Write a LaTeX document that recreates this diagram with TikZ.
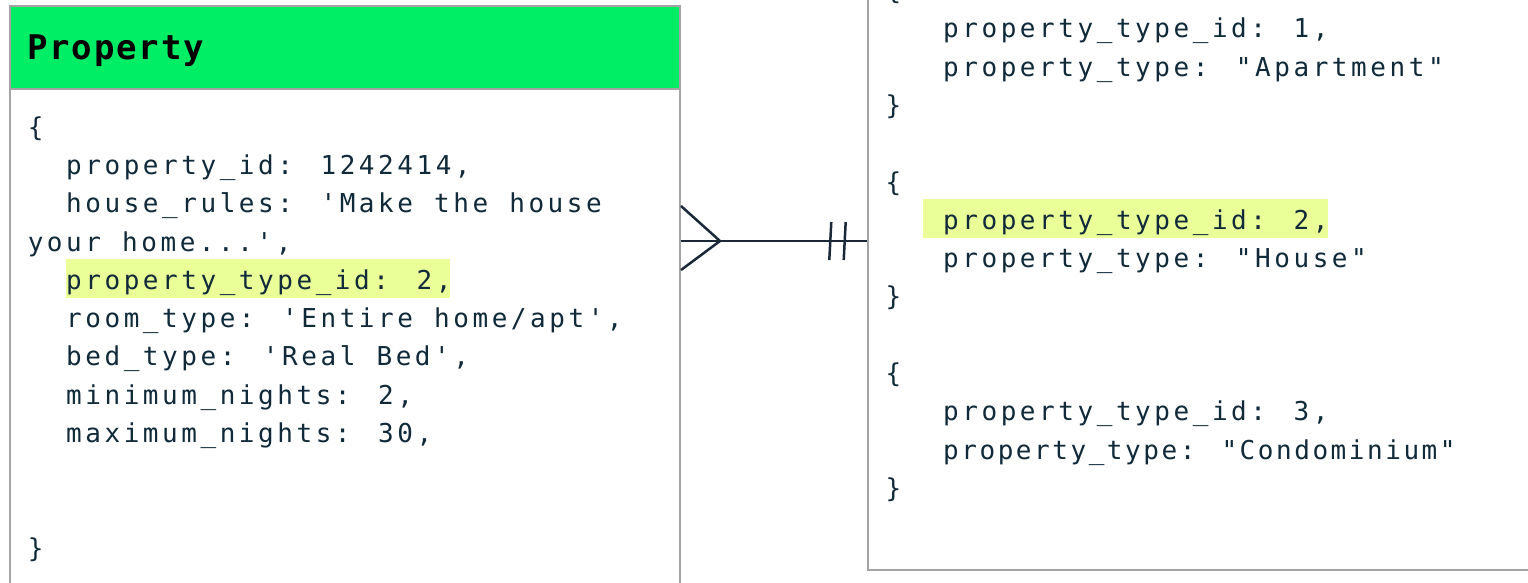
\documentclass[tikz,border=0pt]{standalone}
\usepackage{fontspec}
\newfontfamily\codefont[LetterSpace=13.65,WordSpace=1.1]{DejaVu Sans Mono}
\newfontfamily\tightcode[LetterSpace=9.8,WordSpace=1.1]{DejaVu Sans Mono}
\newfontfamily\titlefont[LetterSpace=5.4]{DejaVu Sans Mono}
\newcommand\sq{\char39\relax}
\newcommand\dq{\char34\relax}
\definecolor{hdrgreen}{HTML}{00EE66}
\definecolor{hilite}{HTML}{EBFF99}
\definecolor{ink}{HTML}{102A3A}
\definecolor{rule}{HTML}{A4A4A4}
\definecolor{linkc}{HTML}{1B2838}
\tikzset{
  code/.style={anchor=base west, inner sep=0pt, text=ink, font=\codefont\fontsize{26}{31}\selectfont},
  tcode/.style={code, font=\tightcode\fontsize{26}{31}\selectfont},
  box/.style={draw=rule, line width=2pt, fill=white, inner sep=0pt},
  conn/.style={draw=linkc, line width=2.5pt},
  hlbox/.style={fill=hilite, draw=none}
}
\begin{document}
\begin{tikzpicture}[x=1pt,y=-1pt]
\useasboundingbox (0,0) rectangle (1528,583);
\clip (0,0) rectangle (1528,583);
% left entity
\node[box, anchor=north west, minimum width=670.5pt, minimum height=700pt] (prop) at (8.5,5) {};
\node[fill=hdrgreen, draw=rule, line width=2pt, anchor=north west, minimum width=670.5pt, minimum height=83pt, inner sep=0pt] (head) at (8.5,5) {};
\node[anchor=base west, inner sep=0pt, text=black, font=\titlefont\fontsize{34}{40}\selectfont\bfseries] (title) at (27,60) {Property};
% right entity
\node[box, anchor=south west, minimum width=800pt, minimum height=700pt] (ptype) at (867,571) {};
% highlights
\fill[hlbox] (66,259) rectangle (450,297.7);
\fill[hlbox] (922.7,199) rectangle (1328,237.7);
% left text
\node[code] (l1) at (27.6,136.1) {\{};
\node[code] (l2) at (66,174.4) {property\_id: 1242414,};
\node[code] (l3) at (66,212.7) {house\_rules: \sq Make the house};
\node[code] (l4) at (27.6,251.0) {your home...\sq,};
\node[code] (l5) at (66,289.3) {property\_type\_id: 2,};
\node[code] (l6) at (66,327.6) {room\_type: \sq Entire home/apt\sq,};
\node[code] (l7) at (66,365.9) {bed\_type: \sq Real Bed\sq,};
\node[code] (l8) at (66,404.2) {minimum\_nights: 2,};
\node[code] (l9) at (66,442.5) {maximum\_nights: 30,};
\node[code] (l12) at (27.6,557.4) {\}};
% right text
\node[code] (r1) at (885.4,-0.5) {\{};
\node[code] (r2) at (943,37.8) {property\_type\_id: 1,};
\node[code] (r3) at (943,76.1) {property\_type: \dq Apartment\dq};
\node[code] (r4) at (885.4,114.4) {\}};
\node[code] (r5) at (885.4,191.0) {\{};
\node[code] (r6) at (943,229.3) {property\_type\_id: 2,};
\node[code] (r7) at (943,267.6) {property\_type: \dq House\dq};
\node[code] (r8) at (885.4,305.9) {\}};
\node[code] (r9) at (885.4,382.5) {\{};
\node[code] (r10) at (943,420.8) {property\_type\_id: 3,};
\node[tcode] (r11) at (943,459.1) {property\_type: \dq Condominium\dq};
\node[code] (r12) at (885.4,497.4) {\}};
% connector
\coordinate (lk) at (0,241);
\coordinate (cftop) at (0,206);
\coordinate (cfbot) at (0,270);
\coordinate (apex) at (720,241);
\draw[conn] (prop.east |- lk) -- (ptype.west |- lk);
\draw[conn] (prop.east |- cftop) -- (apex) -- (prop.east |- cfbot);
\draw[conn] (831.3,222) -- (829.3,260);
\draw[conn] (845.7,222) -- (843.7,260);
\end{tikzpicture}
\end{document}
